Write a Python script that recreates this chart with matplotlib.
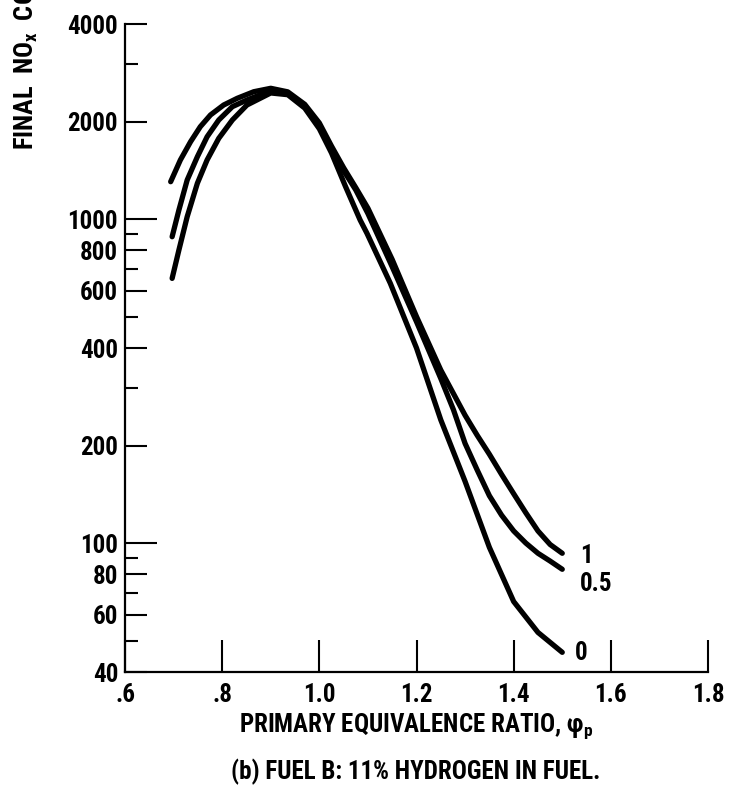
import numpy as np
import matplotlib
matplotlib.use("Agg")
import matplotlib.pyplot as plt
from matplotlib import font_manager
from matplotlib.ticker import FixedLocator, NullFormatter

# the scan uses a condensed sans face; take the narrowest one that is installed
installed = {f.name for f in font_manager.fontManager.ttflist}
font = 'DejaVu Sans'
for name in ['Liberation Sans Narrow', 'Roboto Condensed', 'Open Sans Condensed']:
    if name in installed:
        font = name
        break
plt.rcParams['font.family'] = [font, 'DejaVu Sans']
plt.rcParams['font.weight'] = 'bold'
plt.rcParams['axes.labelweight'] = 'bold'
if font == 'DejaVu Sans':
    plt.rcParams['font.stretch'] = 'condensed'

# Primary equivalence ratio and final NOx (ppm),
# one curve per labelled parameter (0, 0.5, 1)
phi_0 = [0.697, 0.711, 0.728, 0.749, 0.769, 0.793, 0.821, 0.851, 0.90,
         0.935, 0.97, 1.00, 1.025, 1.054, 1.084, 1.098, 1.146, 1.20, 1.25,
         1.30, 1.35, 1.40, 1.45, 1.50]
nox_0 = [656, 803, 1017, 1290, 1522, 1775, 2022, 2249, 2450,
         2420, 2200, 1900, 1600, 1259, 993, 904, 634, 400, 240,
         155, 97, 66, 53, 46]

phi_05 = [0.697, 0.711, 0.728, 0.749, 0.769, 0.793, 0.821, 0.851, 0.90,
          0.935, 0.97, 1.00, 1.025, 1.05, 1.075, 1.10, 1.15, 1.20, 1.25,
          1.276, 1.30, 1.325, 1.35, 1.375, 1.40, 1.425, 1.45, 1.475, 1.50]
nox_05 = [882, 1067, 1320, 1558, 1795, 2022, 2223, 2331, 2490,
          2440, 2230, 1950, 1650, 1410, 1230, 1040, 712, 482, 322,
          258, 203, 168, 140, 122, 109, 100, 93, 88, 83]

phi_1 = [0.694, 0.714, 0.735, 0.755, 0.776, 0.803, 0.831, 0.865, 0.90,
         0.935, 0.97, 1.00, 1.025, 1.05, 1.075, 1.10, 1.15, 1.20, 1.25,
         1.30, 1.325, 1.35, 1.375, 1.40, 1.425, 1.45, 1.475, 1.50]
nox_1 = [1304, 1522, 1733, 1928, 2096, 2249, 2359, 2472, 2533,
         2470, 2260, 1980, 1680, 1440, 1250, 1080, 750, 500, 342,
         248, 215, 188, 163, 142, 124, 109, 99, 93]

curve_labels = ['0', '0.5', '1']

x_ticks = [0.6, 0.8, 1.0, 1.2, 1.4, 1.6, 1.8]
x_ticklabels = ['.6', '.8', '1.0', '1.2', '1.4', '1.6', '1.8']
y_major = [40, 60, 80, 100, 200, 400, 600, 800, 1000, 2000, 4000]
y_minor = [50, 70, 90, 300, 500, 700, 900, 3000]

fig = plt.figure(figsize=(7.32, 7.9), dpi=100)
ax = fig.add_axes([125 / 732, 1 - 672 / 790, 583 / 732, 648 / 790])

for phi, nox in [(phi_0, nox_0), (phi_05, nox_05), (phi_1, nox_1)]:
    ax.plot(phi, nox, color='black', lw=3.8, solid_capstyle='round',
            solid_joinstyle='round')

ax.set_yscale('log')
ax.set_xlim(0.6, 1.8)
ax.set_ylim(40, 4000)

ax.spines['top'].set_visible(False)
ax.spines['right'].set_visible(False)
ax.spines['left'].set_linewidth(1.6)
ax.spines['bottom'].set_linewidth(1.6)

ax.xaxis.set_major_locator(FixedLocator(x_ticks))
ax.set_xticklabels(x_ticklabels)
ax.xaxis.set_minor_locator(FixedLocator([]))
ax.yaxis.set_major_locator(FixedLocator(y_major))
ax.yaxis.set_minor_locator(FixedLocator(y_minor))
ax.yaxis.set_minor_formatter(NullFormatter())
ax.set_yticklabels([str(v) for v in y_major])

ax.tick_params(axis='x', which='major', direction='in', length=23, width=1.5,
               labelsize=18, pad=8)
ax.tick_params(axis='y', which='major', direction='in', length=16, width=1.5,
               labelsize=18, pad=5)
ax.tick_params(axis='y', which='minor', direction='in', length=9, width=1.5)

# the decade ticks are drawn longer
for val, tick in zip(y_major, ax.yaxis.get_major_ticks()):
    if val in (100, 1000):
        tick.tick1line.set_markersize(23)

ax.set_xlabel('PRIMARY EQUIVALENCE RATIO, φ$_\\mathregular{p}$', fontsize=18,
              labelpad=3)

fig.text(26 / 732, 1 - 150 / 790, 'FINAL  NO$_\\mathregular{x}$  CONCENTRATION, PPM',
         rotation=90, ha='center', va='bottom', fontsize=19)

fig.text(416 / 732, 1 - 772 / 790, '(b) FUEL B: 11% HYDROGEN IN FUEL.',
         ha='center', va='center', fontsize=18)

# curve labels at the right-hand ends
ax.text(1.537, 91, curve_labels[2], fontsize=18, ha='left', va='center')
ax.text(1.537, 75, curve_labels[1], fontsize=18, ha='left', va='center')
ax.text(1.525, 45.8, curve_labels[0], fontsize=18, ha='left', va='center')

fig.savefig('out.png', dpi=100)
